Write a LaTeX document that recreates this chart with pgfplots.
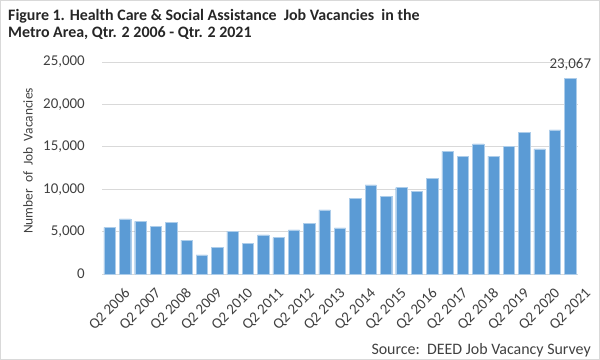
\documentclass[border=0pt]{standalone}
\usepackage{pgfplots}
\pgfplotsset{compat=1.18}
\usepackage{fontspec}
\setmainfont{Carlito}
\definecolor{barblue}{HTML}{5B9BD5}
\definecolor{gridgray}{HTML}{D9D9D9}
\definecolor{txt}{HTML}{404040}
\pgfplotstableread{
x y
0 5500
1 6500
2 6200
3 5650
4 6100
5 4000
6 2250
7 3150
8 5050
9 3600
10 4600
11 4300
12 5200
13 5950
14 7550
15 5450
16 8900
17 10500
18 9150
19 10200
20 9750
21 11250
22 14450
23 13900
24 15350
25 13900
26 15050
27 16700
28 14750
29 17000
30 23067
}\datatable
\begin{document}
\begin{tikzpicture}
\useasboundingbox (0,0) rectangle (600bp,360bp);
\draw[gridgray, line width=1bp] (0.5bp,0.5bp) rectangle (599.5bp,359.5bp);
\begin{axis}[
  at={(102bp,86bp)}, anchor=south west, scale only axis,
  width=476bp, height=212bp,
  xmin=-0.5, xmax=30.5, ymin=0, ymax=25000,
  ybar, bar width=0.74,
  axis x line*=bottom, axis y line*=left,
  y axis line style={draw=none},
  x axis line style={draw=gridgray, line width=0.8bp, -},
  major tick length=0pt,
  ymajorgrids, grid style={gridgray, line width=0.8bp},
  ytick={0,5000,10000,15000,20000,25000},
  scaled y ticks=false,
  /pgf/number format/assume math mode=true,
  yticklabel={\pgfmathprintnumber[fixed,1000 sep={,}]{\tick}},
  yticklabel style={font=\fontsize{15}{17}\selectfont, text=txt, anchor=east, inner sep=0pt, xshift=-17bp},
  xtick={0,2,...,30},
  xticklabels={Q2 2006,Q2 2007,Q2 2008,Q2 2009,Q2 2010,Q2 2011,Q2 2012,Q2 2013,Q2 2014,Q2 2015,Q2 2016,Q2 2017,Q2 2018,Q2 2019,Q2 2020,Q2 2021},
  xticklabel style={font=\fontsize{15}{17}\selectfont, text=txt, rotate=45, anchor=east, inner sep=0pt, yshift=-25bp, xshift=1bp},
  clip=false,
]
\addplot[fill=barblue, draw=barblue!50!white, line width=0.4bp] table[x=x,y=y] {\datatable};
\node[anchor=base, font=\fontsize{15}{17}\selectfont, text=txt, inner sep=0pt] at (axis cs:30,23067) [yshift=10bp] {23,067};
\end{axis}
\node[anchor=north west, align=left, font=\bfseries\fontsize{16}{17.5}\selectfont, text=black!85, inner sep=0pt] at (8bp,351bp) {Figure 1. Health Care \& Social Assistance\ \ Job Vacancies\ \ in the\\Metro Area, Qtr. 2 2006 - Qtr. 2 2021};
\node[rotate=90, font=\fontsize{13.5}{15}\selectfont, text=txt] at (28bp,199bp) {Number\ \ of\ \ Job\ \ Vacancies};
\node[anchor=base east, font=\fontsize{16}{17}\selectfont, text=txt, inner sep=0pt] at (591bp,6bp) {Source:\ \ DEED Job Vacancy Survey};
\end{tikzpicture}
\end{document}
